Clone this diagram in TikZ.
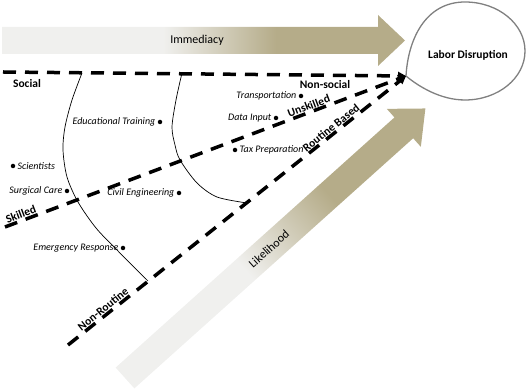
\documentclass[tikz,border=0pt]{standalone}
\usepackage{fontspec}
\setmainfont{Carlito}
\usetikzlibrary{arrows.meta,positioning}
\definecolor{tanarrow}{RGB}{181,172,137}
\definecolor{palefill}{RGB}{240,240,238}
\definecolor{dropgray}{RGB}{128,128,128}
\pgfdeclarehorizontalshading{tanfade}{100bp}{color(0bp)=(palefill); color(45bp)=(palefill); color(59bp)=(tanarrow); color(100bp)=(tanarrow)}

\begin{document}
\begin{tikzpicture}[x=20pt, y=20pt,
  divide/.style={line width=3.5pt, dash pattern=on 13pt off 9pt, -{Triangle[length=8pt,width=8pt]}},
  axislab/.style={font=\fontsize{11.5}{13}\selectfont\bfseries, inner sep=0.5pt},
  job/.style={font=\fontsize{10}{12}\selectfont\itshape, inner sep=0pt},
  jobdot/.style={circle, fill, inner sep=0pt, minimum size=4.5pt},
  arrowtext/.style={font=\fontsize{12}{14}\selectfont}]
  \useasboundingbox (0,0) rectangle (26.35,19.5);
  % immediacy arrow
  \shade[shading=tanfade] (0.1,18.15) -- (18.9,18.15) -- (18.9,18.75) -- (20.25,17.475)
    -- (18.9,16.2) -- (18.9,16.8) -- (0.1,16.8) -- cycle;
  \node[arrowtext] (immediacy) at (9.85,17.5) {Immediacy};
  % likelihood arrow
  \begin{scope}[transform canvas={shift={(6.25,0.6)}, rotate=41.9}]
    \shade[shading=tanfade] (0,-0.7) -- (18.73,-0.7) -- (18.73,-1.275) -- (20.18,0)
      -- (18.73,1.275) -- (18.73,0.7) -- (0,0.7) -- cycle;
    \node[arrowtext] (likelihood) at (9.67,0) {Likelihood};
  \end{scope}
  % labor disruption drop
  \coordinate (tip) at (20.3,15.7);
  \draw[dropgray, line width=1.3pt, fill=white] (tip) .. controls (20.4,17.5) and (21.25,19.4) .. (23.25,19.4)
    arc[start angle=90, end angle=-90, x radius=3, y radius=2.45]
    .. controls (22.0,14.5) and (20.9,15.2) .. cycle;
  \node[axislab] (labor) at (23.4,16.75) {Labor Disruption};
  % dividing lines
  \coordinate (socstart) at (0.15,15.9);
  \coordinate (sklstart) at (0.25,8.15);
  \coordinate (rtnstart) at (3.4,2.25);
  \draw[divide] (socstart) -- (tip);
  \draw[divide] (sklstart) -- node[axislab, pos=0.045, above, sloped] (skilled) {Skilled}
    node[axislab, pos=0.763, above, sloped] (unskilled) {Unskilled} (tip);
  \draw[divide] (rtnstart) -- node[axislab, pos=0.115, above, sloped] (nonroutine) {Non-Routine}
    node[axislab, pos=0.79, above, sloped] (routine) {Routine Based} (tip);
  \node[axislab] (social) at (1.35,15.3) {Social};
  \node[axislab] (nonsocial) at (16.25,15.25) {Non-social};
  % skill arcs
  \draw[line width=0.7pt] plot[smooth] coordinates {(4.1,15.85) (3.6,14.5) (3.25,13.15) (3.15,12.0)
    (3.35,10.65) (3.9,9.4) (4.8,8.1) (5.9,6.95) (7.4,5.45)};
  \draw[line width=0.7pt] plot[smooth] coordinates {(9.1,15.85) (8.8,14.5) (8.6,13.15) (8.75,12.25)
    (9.0,11.5) (9.85,10.35) (10.85,9.65) (12.35,9.35)};
  % jobs
  \node[jobdot] (transport) at (15.05,14.7) {};
  \node[job, left=2pt of transport] (transportl) {Transportation};
  \node[jobdot] (datainput) at (13.8,13.6) {};
  \node[job, left=2pt of datainput] (datainputl) {Data Input};
  \node[jobdot] (taxprep) at (11.75,12.0) {};
  \node[job, right=2pt of taxprep] (taxprepl) {Tax Preparation};
  \node[jobdot] (edutrain) at (8.0,13.4) {};
  \node[job, left=2pt of edutrain] (edutrainl) {Educational Training};
  \node[jobdot] (scient) at (0.65,11.2) {};
  \node[job, right=2pt of scient] (scientl) {Scientists};
  \node[jobdot] (surgical) at (3.35,9.95) {};
  \node[job, left=2pt of surgical] (surgicall) {Surgical Care};
  \node[jobdot] (civileng) at (8.95,9.85) {};
  \node[job, left=2pt of civileng] (civilengl) {Civil Engineering};
  \node[jobdot] (emergency) at (6.15,7.1) {};
  \node[job, left=2pt of emergency] (emergencyl) {Emergency Response};
\end{tikzpicture}
\end{document}
